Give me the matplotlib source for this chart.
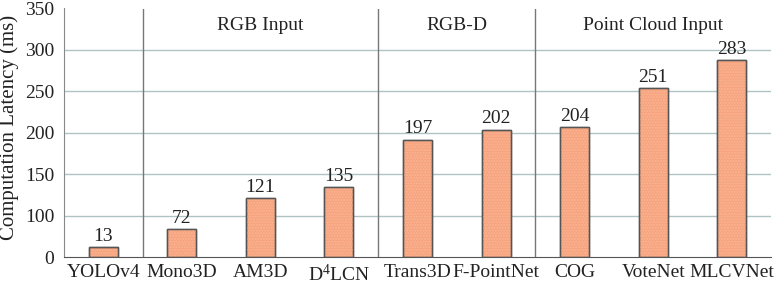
import numpy as np
import matplotlib
matplotlib.use("Agg")
import matplotlib.pyplot as plt

plt.rcParams['font.family'] = ['Liberation Serif', 'DejaVu Serif']
plt.rcParams['mathtext.fontset'] = 'custom'
plt.rcParams['mathtext.rm'] = 'Liberation Serif'
plt.rcParams['mathtext.default'] = 'regular'

methods = ['YOLOv4', 'Mono3D', 'AM3D', 'D$^{4}$LCN', 'Trans3D', 'F-PointNet',
           'COG', 'VoteNet', 'MLCVNet']
bar_heights = [24, 69, 122, 135, 192, 204, 207, 254, 288]
value_labels = [13, 72, 121, 135, 197, 202, 204, 251, 283]
group_names = ['RGB Input', 'RGB-D', 'Point Cloud Input']
group_bounds = [(0.5, 3.5), (3.5, 5.5), (5.5, 8.5)]
yticks = [0, 100, 150, 200, 250, 300, 350]


def fwd(y):
    y = np.asarray(y, dtype=float)
    return np.where(y <= 100, y / 2.0, y - 50.0)


def inv(t):
    t = np.asarray(t, dtype=float)
    return np.where(t <= 50, t * 2.0, t + 50.0)


fig = plt.figure(figsize=(7.8, 2.84), dpi=100)
ax = fig.add_axes([64 / 780, 1 - 257.3 / 284, (771 - 64) / 780, (257.3 - 8.5) / 284])
ax.set_yscale('function', functions=(fwd, inv))

x = np.arange(len(methods))
ax.set_xlim(-0.5, len(methods) - 0.5)
ax.set_ylim(0, 350)
ax.set_yticks(yticks)
ax.set_yticklabels([str(v) for v in yticks])
ax.yaxis.set_minor_locator(matplotlib.ticker.NullLocator())

ax.yaxis.grid(True, color='#AFC3C3', linewidth=1.0)
ax.set_axisbelow(True)
for gl, tv in zip(ax.get_ygridlines(), yticks):
    if tv in (0, 350):
        gl.set_visible(False)

bar_color = '#F7A47E'
ax.bar(x, bar_heights, width=0.37, color=bar_color, edgecolor='#555555',
       linewidth=1.0, zorder=3)
ax.bar(x, bar_heights, width=0.37, fill=False, hatch='......',
       edgecolor='#F9B595', linewidth=0, zorder=3.5)
ax.bar(x, bar_heights, width=0.37, fill=False, edgecolor='#555555',
       linewidth=1.0, zorder=4)

for xi, h, lab in zip(x, bar_heights, value_labels):
    ax.annotate(str(lab), (xi, h), xytext=(0, 1.5), textcoords='offset points',
                ha='center', va='bottom', fontsize=14, color='#222222')

for xb in [0.5, 3.5, 5.5]:
    ax.axvline(xb, color='#777777', linewidth=1.0, zorder=2)

for name, (a, b) in zip(group_names, group_bounds):
    ax.text((a + b) / 2, 330, name, ha='center', va='center', fontsize=14,
            color='#222222')

ax.set_xticks(x)
ax.set_xticklabels(methods, fontsize=14, color='#222222')
ax.tick_params(axis='x', length=0, pad=5)
ax.tick_params(axis='y', length=0, pad=7, labelsize=14, labelcolor='#222222')

ax.set_ylabel('Computation Latency (ms)', fontsize=15, color='#222222')
ax.yaxis.set_label_coords(-0.063, 0.52)

for s in ['top', 'right']:
    ax.spines[s].set_visible(False)
ax.spines['left'].set_color('#888888')
ax.spines['bottom'].set_color('#555555')

fig.savefig('out.png', dpi=100)
